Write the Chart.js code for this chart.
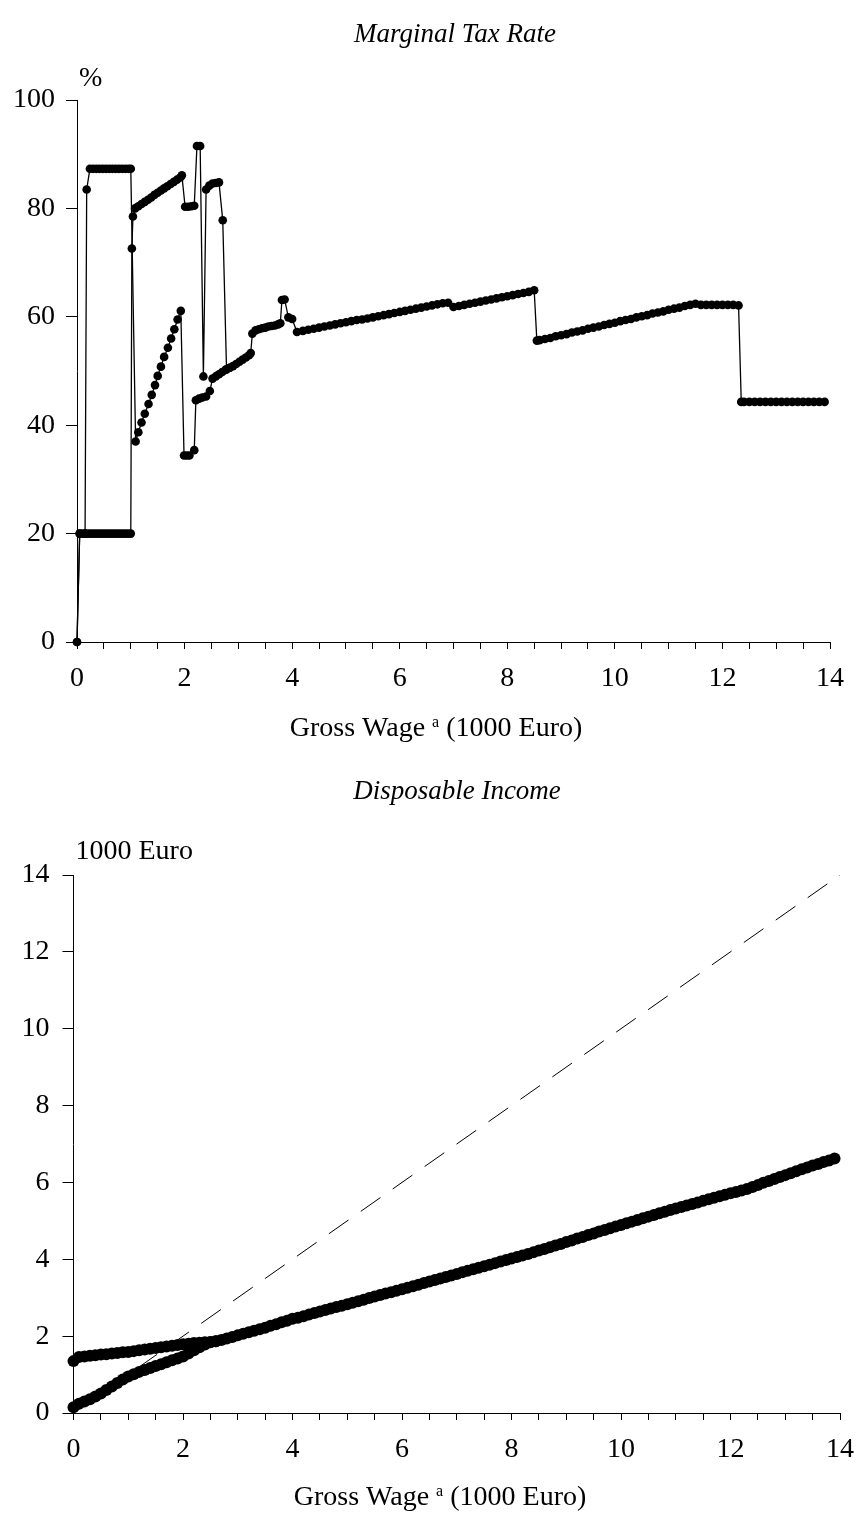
<!DOCTYPE html>
<html lang="en">
<head>
    <meta charset="UTF-8">
    <meta name="viewport" content="width=device-width, initial-scale=1.0">
    <title>Marginal Tax Rate and Disposable Income</title>
    <style>
        html, body { margin: 0; padding: 0; background: #fff; overflow: hidden; }
        .chart-box { position: absolute; left: 0; width: 858px; }
        #top { top: 0; height: 748px; }
        #bottom { top: 748px; height: 768px; }
    </style>
</head>
<body>

    <div class="chart-box" id="top"><canvas id="taxChart"></canvas></div>
    <div class="chart-box" id="bottom"><canvas id="incomeChart"></canvas></div>

    <script src="https://cdn.jsdelivr.net/npm/chart.js@4.4.1/dist/chart.umd.min.js"></script>
    <script>
        // marginal tax rate, household starting at 20%
        var taxWageA = [0, 0.05, 0.1, 0.15, 0.2, 0.25, 0.3, 0.35, 0.4, 0.45, 0.5, 0.55, 0.6, 0.65, 0.7, 0.75, 0.8, 0.85, 0.9, 0.95, 1.0,
            1.02, 1.04, 1.08, 1.14, 1.2, 1.26, 1.32, 1.38, 1.44, 1.5, 1.56, 1.62, 1.68, 1.74, 1.8, 1.86, 1.92, 1.95,
            2.01, 2.07, 2.13, 2.18, 2.23, 2.29, 2.35, 2.4, 2.46, 2.52, 2.58, 2.64, 2.71, 2.78, 2.84, 2.9, 2.96, 3.02, 3.08, 3.14, 3.2, 3.23,
            3.26, 3.32, 3.38, 3.44, 3.5, 3.56, 3.62, 3.68, 3.74, 3.78, 3.81, 3.86, 3.93, 4.0, 4.09,
            4.2, 4.3, 4.4, 4.5, 4.6, 4.7, 4.8, 4.9, 5.0, 5.1, 5.2, 5.3, 5.4, 5.5, 5.6, 5.7, 5.8, 5.9, 6.0,
            6.1, 6.2, 6.3, 6.4, 6.5, 6.6, 6.7, 6.8, 6.9, 7.0, 7.1, 7.2, 7.3, 7.4, 7.5, 7.6, 7.7, 7.8, 7.9, 8.0,
            8.1, 8.2, 8.3, 8.4, 8.5, 8.55, 8.6, 8.7, 8.8, 8.9, 9.0, 9.1, 9.2, 9.3, 9.4, 9.5, 9.6, 9.7, 9.8, 9.9, 10.0,
            10.1, 10.2, 10.3, 10.4, 10.5, 10.6, 10.7, 10.8, 10.9, 11.0, 11.1, 11.2, 11.3, 11.4, 11.5, 11.6, 11.7, 11.8, 11.9, 12.0,
            12.1, 12.2, 12.3, 12.35, 12.4, 12.5, 12.6, 12.7, 12.8, 12.9, 13.0, 13.1, 13.2, 13.3, 13.4, 13.5, 13.6, 13.7, 13.8, 13.9];
        var taxRateA = [0, 20, 20, 20, 20, 20, 20, 20, 20, 20, 20, 20, 20, 20, 20, 20, 20, 20, 20, 20, 20,
            72.6, 78.5, 80.0, 80.4, 80.8, 81.2, 81.6, 82.0, 82.5, 82.9, 83.3, 83.7, 84.1, 84.5, 84.9, 85.3, 85.7, 86.1,
            80.3, 80.3, 80.4, 80.5, 91.5, 91.5, 49.0, 83.5, 84.2, 84.6, 84.7, 84.8, 77.8, 50.3, 50.6, 50.9, 51.3, 51.7, 52.1, 52.5, 52.9, 53.3,
            56.9, 57.5, 57.7, 57.9, 58.0, 58.2, 58.3, 58.4, 58.6, 58.8, 63.1, 63.2, 59.9, 59.6, 57.2,
            57.4, 57.6, 57.8, 58.0, 58.2, 58.4, 58.6, 58.8, 59.0, 59.2, 59.4, 59.5, 59.7, 59.9, 60.1, 60.3, 60.5, 60.7, 60.9,
            61.1, 61.3, 61.5, 61.7, 61.9, 62.1, 62.3, 62.5, 62.6, 61.8, 62.0, 62.2, 62.4, 62.6, 62.8, 63.0, 63.2, 63.4, 63.6, 63.8,
            64.0, 64.2, 64.4, 64.6, 64.9, 55.6, 55.7, 55.9, 56.1, 56.4, 56.6, 56.8, 57.1, 57.3, 57.5, 57.8, 58.0, 58.2, 58.5, 58.7, 58.9,
            59.2, 59.4, 59.6, 59.9, 60.1, 60.3, 60.6, 60.8, 61.0, 61.3, 61.5, 61.7, 62.0, 62.2, 62.4, 62.2, 62.2, 62.2, 62.2, 62.2,
            62.2, 62.2, 62.1, 44.3, 44.3, 44.3, 44.3, 44.3, 44.3, 44.3, 44.3, 44.3, 44.3, 44.3, 44.3, 44.3, 44.3, 44.3, 44.3, 44.3];

        // marginal tax rate, household starting at 87%; joins the first one near 2.8
        var taxWageB = [0, 0.05, 0.15, 0.18, 0.24, 0.3, 0.36, 0.42, 0.48, 0.54, 0.6, 0.66, 0.72, 0.78, 0.84, 0.9, 0.96, 1.0,
            1.09, 1.14, 1.2, 1.26, 1.33, 1.39, 1.45, 1.5, 1.56, 1.62, 1.69, 1.75, 1.81, 1.87, 1.93,
            1.99, 2.04, 2.09, 2.18, 2.21, 2.27, 2.33, 2.4, 2.47, 2.52, 2.58, 2.64, 2.7, 2.76, 2.84];
        var taxRateB = [0, 20, 20, 83.5, 87.3, 87.3, 87.3, 87.3, 87.3, 87.3, 87.3, 87.3, 87.3, 87.3, 87.3, 87.3, 87.3, 87.3,
            37.0, 38.7, 40.5, 42.1, 43.9, 45.6, 47.4, 49.1, 50.8, 52.6, 54.3, 56.0, 57.7, 59.5, 61.1,
            34.4, 34.4, 34.4, 35.4, 44.6, 44.9, 45.1, 45.3, 46.3, 48.6, 49.0, 49.4, 49.8, 50.2, 50.6];

        // disposable income (1000 Euro)
        var incomeWage = [0, 0.1, 0.2, 0.3, 0.4, 0.5, 0.6, 0.7, 0.8, 0.9, 1.0, 1.1, 1.2, 1.3, 1.4, 1.5, 1.6, 1.7, 1.8, 1.9,
            2.0, 2.1, 2.2, 2.3, 2.4, 2.5, 2.6, 2.7, 2.8, 2.9, 3.0, 3.1, 3.2, 3.3, 3.4, 3.5, 3.6, 3.7, 3.8, 3.9,
            4.0, 4.1, 4.2, 4.3, 4.4, 4.5, 4.6, 4.7, 4.8, 4.9, 5.0, 5.1, 5.2, 5.3, 5.4, 5.5, 5.6, 5.7, 5.8, 5.9,
            6.0, 6.1, 6.2, 6.3, 6.4, 6.5, 6.6, 6.7, 6.8, 6.9, 7.0, 7.1, 7.2, 7.3, 7.4, 7.5, 7.6, 7.7, 7.8, 7.9,
            8.0, 8.1, 8.2, 8.3, 8.4, 8.5, 8.6, 8.7, 8.8, 8.9, 9.0, 9.1, 9.2, 9.3, 9.4, 9.5, 9.6, 9.7, 9.8, 9.9,
            10.0, 10.1, 10.2, 10.3, 10.4, 10.5, 10.6, 10.7, 10.8, 10.9, 11.0, 11.1, 11.2, 11.3, 11.4, 11.5, 11.6, 11.7, 11.8, 11.9,
            12.0, 12.1, 12.2, 12.3, 12.4, 12.5, 12.6, 12.7, 12.8, 12.9, 13.0, 13.1, 13.2, 13.3, 13.4, 13.5, 13.6, 13.7, 13.8, 13.9];
        var incomeLow = [0.15, 0.24, 0.30, 0.36, 0.43, 0.51, 0.60, 0.69, 0.78, 0.87, 0.95, 1.01, 1.07, 1.12, 1.17, 1.22, 1.27, 1.32, 1.37, 1.42,
            1.47, 1.55, 1.63, 1.71, 1.78, 1.84, 1.87, 1.90, 1.94, 1.98, 2.02, 2.06, 2.10, 2.14, 2.18, 2.22, 2.27, 2.31, 2.36, 2.40,
            2.45, 2.48, 2.52, 2.56, 2.60, 2.64, 2.68, 2.72, 2.76, 2.79, 2.83, 2.87, 2.91, 2.95, 2.99, 3.03, 3.07, 3.11, 3.14, 3.18,
            3.22, 3.26, 3.30, 3.34, 3.38, 3.42, 3.46, 3.50, 3.54, 3.58, 3.62, 3.66, 3.70, 3.74, 3.78, 3.82, 3.86, 3.90, 3.94, 3.98,
            4.02, 4.06, 4.10, 4.14, 4.18, 4.23, 4.27, 4.31, 4.36, 4.40, 4.45, 4.49, 4.54, 4.58, 4.63, 4.67, 4.72, 4.76, 4.81, 4.85,
            4.89, 4.94, 4.98, 5.02, 5.07, 5.11, 5.15, 5.20, 5.24, 5.28, 5.32, 5.36, 5.40, 5.44, 5.48, 5.52, 5.56, 5.60, 5.64, 5.68,
            5.72, 5.75, 5.79, 5.83, 5.88, 5.93, 5.99, 6.04, 6.09, 6.14, 6.19, 6.24, 6.29, 6.34, 6.39, 6.44, 6.48, 6.53, 6.57, 6.62];
        var incomeHigh = [1.35, 1.46, 1.47, 1.49, 1.50, 1.52, 1.53, 1.55, 1.56, 1.58, 1.59, 1.61, 1.63, 1.65, 1.67, 1.69, 1.71, 1.73, 1.75, 1.77,
            1.79, 1.80, 1.82, 1.83, 1.84, 1.85, 1.87];

        // 45 degree line: disposable income = gross wage
        var diagWage = [0, 14];
        var diagIncome = [0, 14];

        var taxTicks = [0, 20, 40, 60, 80, 100];
        var incomeTicks = [0, 2, 4, 6, 8, 10, 12, 14];
        var wageLabels = [0, 2, 4, 6, 8, 10, 12, 14];

        var serif = '"Liberation Serif", "Times New Roman", serif';
        var fontSize = 28;

        function toPoints(xs, ys) {
            var pts = [];
            for (var i = 0; i < ys.length; i++) {
                pts.push({ x: xs[i], y: ys[i] });
            }
            return pts;
        }

        // titles, unit text and the x axis title with its superscript
        var chartText = {
            id: 'chartText',
            afterDraw: function (chart, args, o) {
                var ctx = chart.ctx;
                ctx.save();
                ctx.fillStyle = '#000';

                ctx.font = 'italic ' + o.titleSize + 'px ' + serif;
                ctx.textAlign = 'center';
                ctx.textBaseline = 'middle';
                ctx.fillText(o.title, o.titleX, o.titleY);

                ctx.textAlign = 'left';
                ctx.textBaseline = 'alphabetic';
                ctx.font = fontSize + 'px ' + serif;
                ctx.fillText(o.unit, chart.scales.y.right + 2, o.unitY);

                var mainFont = fontSize + 'px ' + serif;
                var supFont = '16px ' + serif;
                var a = 'Gross Wage ', b = 'a', c = ' (1000 Euro)';
                ctx.font = mainFont;
                var wa = ctx.measureText(a).width, wc = ctx.measureText(c).width;
                ctx.font = supFont;
                var wb = ctx.measureText(b).width;
                var x0 = o.xTitleX - (wa + wb + wc) / 2;
                ctx.font = mainFont;
                ctx.fillText(a, x0, o.xTitleY);
                ctx.font = supFont;
                ctx.fillText(b, x0 + wa, o.xTitleY - 9);
                ctx.font = mainFont;
                ctx.fillText(c, x0 + wa + wb, o.xTitleY);
                ctx.restore();
            }
        };

        function makeOptions(cfg) {
            return {
                responsive: true,
                maintainAspectRatio: false,
                animation: false,
                events: [],
                layout: { padding: { left: 0, right: cfg.padRight, top: cfg.padTop, bottom: 0 } },
                plugins: {
                    legend: { display: false },
                    tooltip: { enabled: false },
                    title: { display: false },
                    chartText: cfg.text
                },
                scales: {
                    x: {
                        type: 'linear',
                        min: 0,
                        max: 14,
                        afterBuildTicks: function (scale) {
                            // tick every 0.5, labels only on the even values
                            var t = [];
                            for (var v = 0; v <= 28; v++) t.push({ value: v / 2 });
                            scale.ticks = t;
                        },
                        afterFit: function (scale) {
                            scale.height = cfg.xHeight;
                            scale.paddingLeft = 0;
                            scale.paddingRight = 0;
                        },
                        ticks: {
                            autoSkip: false,
                            maxRotation: 0,
                            padding: 13,
                            color: '#000',
                            font: { family: serif, size: fontSize },
                            callback: function (v) { return wageLabels.indexOf(v) >= 0 ? String(v) : ''; }
                        },
                        grid: { drawOnChartArea: false, tickLength: 7, color: '#000', lineWidth: 1 },
                        border: { display: true, color: '#000', width: 1 }
                    },
                    y: {
                        min: 0,
                        max: cfg.yMax,
                        afterFit: function (scale) { scale.width = cfg.yWidth; },
                        afterBuildTicks: function (scale) {
                            scale.ticks = cfg.yTicks.map(function (v) { return { value: v }; });
                        },
                        ticks: {
                            padding: cfg.yPad,
                            color: '#000',
                            font: { family: serif, size: fontSize }
                        },
                        grid: { drawOnChartArea: false, tickLength: 11, color: '#000', lineWidth: 1 },
                        border: { display: true, color: '#000', width: 1 }
                    }
                }
            };
        }

        function createTaxChart() {
            var ctx = document.getElementById('taxChart').getContext('2d');
            var opts = makeOptions({
                padTop: 100, padRight: 28, xHeight: 106,
                yMax: 100, yTicks: taxTicks, yWidth: 77, yPad: 11,
                text: {
                    title: 'Marginal Tax Rate', titleSize: 27, titleX: 455, titleY: 35,
                    unit: '%', unitY: 86,
                    xTitleX: 436, xTitleY: 736
                }
            });
            new Chart(ctx, {
                type: 'line',
                data: {
                    datasets: [
                        {
                            data: toPoints(taxWageB, taxRateB),
                            borderColor: '#000', borderWidth: 1.3, tension: 0, clip: false,
                            pointRadius: 4.3, pointBackgroundColor: '#000', pointBorderWidth: 0
                        },
                        {
                            data: toPoints(taxWageA, taxRateA),
                            borderColor: '#000', borderWidth: 1.3, tension: 0, clip: false,
                            pointRadius: 4.3, pointBackgroundColor: '#000', pointBorderWidth: 0
                        }
                    ]
                },
                options: opts,
                plugins: [chartText]
            });
        }

        function createIncomeChart() {
            var ctx = document.getElementById('incomeChart').getContext('2d');
            var opts = makeOptions({
                padTop: 127, padRight: 18, xHeight: 103,
                yMax: 14, yTicks: incomeTicks, yWidth: 73.5, yPad: 13,
                text: {
                    title: 'Disposable Income', titleSize: 27, titleX: 457, titleY: 44,
                    unit: '1000 Euro', unitY: 111,
                    xTitleX: 440, xTitleY: 757
                }
            });
            new Chart(ctx, {
                type: 'line',
                data: {
                    datasets: [
                        {
                            data: toPoints(diagWage, diagIncome),
                            borderColor: '#000', borderWidth: 1, borderDash: [24, 15],
                            pointRadius: 0, tension: 0
                        },
                        {
                            data: toPoints(incomeWage, incomeHigh),
                            borderColor: '#000', borderWidth: 2, tension: 0, clip: false,
                            pointRadius: 6, pointBackgroundColor: '#000', pointBorderWidth: 0
                        },
                        {
                            data: toPoints(incomeWage, incomeLow),
                            borderColor: '#000', borderWidth: 2, tension: 0, clip: false,
                            pointRadius: 6, pointBackgroundColor: '#000', pointBorderWidth: 0
                        }
                    ]
                },
                options: opts,
                plugins: [chartText]
            });
        }

        createTaxChart();
        createIncomeChart();
    </script>

</body>
</html>
